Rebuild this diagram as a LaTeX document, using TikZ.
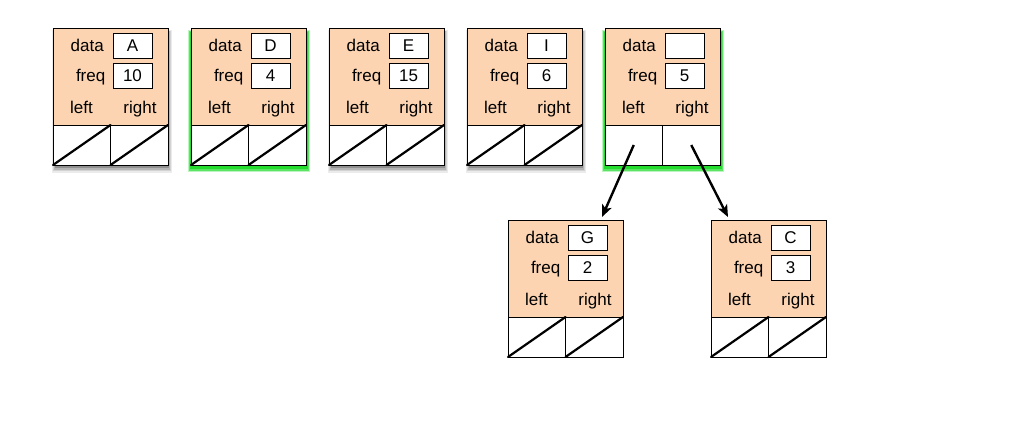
\documentclass[tikz,border=0pt]{standalone}
\usepackage{fontspec}
\setmainfont{Liberation Sans}
\usetikzlibrary{calc,arrows.meta}
\definecolor{peach}{RGB}{252,212,178}
\definecolor{glow}{RGB}{30,220,40}
\tikzset{
  nodebox/.style={draw=black,line width=0.8pt,fill=peach,minimum width=115pt,minimum height=137pt,anchor=north west,inner sep=0pt,outer sep=0pt},
  cell/.style={draw=black,line width=0.8pt,fill=white,minimum width=57.5pt,minimum height=40pt,inner sep=0pt,outer sep=0pt},
  valbox/.style={draw=black,line width=0.8pt,fill=white,minimum width=39pt,minimum height=25pt,inner sep=0pt,font=\fontsize{17}{19}\selectfont},
  lbl/.style={inner sep=0pt,font=\fontsize{17}{19}\selectfont},
  diag/.style={line width=2.2pt,line cap=round},
  ptr/.style={line width=2.4pt,-{Stealth[length=12pt,width=10pt,inset=3pt]}}
}
% soft shadows drawn behind a box at (x,y)
\newcommand\greyshadow[2]{%
  \fill[black,opacity=0.08] (#1-1,#2+2) rectangle (#1+119,#2+145);
  \fill[black,opacity=0.10] (#1,#2+3) rectangle (#1+118,#2+143);
  \fill[black,opacity=0.14] (#1+1,#2+3) rectangle (#1+117,#2+141.5);
  \fill[black,opacity=0.2] (#1+2,#2+3) rectangle (#1+116,#2+140);
}
\newcommand\greenshadow[2]{%
  \fill[glow,opacity=0.3] (#1-3,#2+2) rectangle (#1+119,#2+143.5);
  \fill[glow,opacity=0.6] (#1-2,#2+3) rectangle (#1+118,#2+142.5);
  \fill[glow,opacity=0.9] (#1-1,#2+4) rectangle (#1+117,#2+141);
}
\newcommand\noshadow[2]{}
\newcommand\treenode[7]{%
  #6{#2}{#3}
  \node[nodebox] (#1) at (#2,#3) {};
  \node[cell,anchor=south west] (#1-l) at (#1.south west) {};
  \node[cell,anchor=south east] (#1-r) at (#1.south east) {};
  \ifx#7y
  \draw[diag] (#1-l.south west) -- (#1-l.north east);
  \draw[diag] (#1-r.south west) -- (#1-r.north east);
  \fi
  \node[valbox] (#1-dv) at ($(#1.north west)+(79.5,17.5)$) {#4};
  \node[valbox] (#1-fv) at ($(#1.north west)+(79.5,47.5)$) {#5};
  \node[lbl,anchor=base east] (#1-dl) at ($(#1.north west)+(51,23.5)$) {data};
  \node[lbl,anchor=base east] (#1-fl) at ($(#1.north west)+(52.5,53.5)$) {freq};
  \node[lbl,anchor=base] (#1-ll) at ($(#1.north west)+(28.5,85)$) {left};
  \node[lbl,anchor=base] (#1-rl) at ($(#1.north west)+(87,85)$) {right};
}
\begin{document}
\begin{tikzpicture}[x=1pt,y=-1pt]
\useasboundingbox[fill=white] (0,0) rectangle (1015,434);
\treenode{A}{53}{28}{A}{10}{\greyshadow}{y}
\treenode{D}{191}{28}{D}{4}{\greenshadow}{y}
\treenode{E}{329}{28}{E}{15}{\greyshadow}{y}
\treenode{I}{467}{28}{I}{6}{\greyshadow}{y}
\treenode{P}{605}{28}{}{5}{\greenshadow}{n}
\treenode{G}{508}{220}{G}{2}{\noshadow}{y}
\treenode{C}{711}{220}{C}{3}{\noshadow}{y}
\draw[ptr] (P-l.center) -- ($(G.north west)+(94,-3)$);
\draw[ptr] (P-r.center) -- ($(C.north west)+(17,-3)$);
\end{tikzpicture}
\end{document}
